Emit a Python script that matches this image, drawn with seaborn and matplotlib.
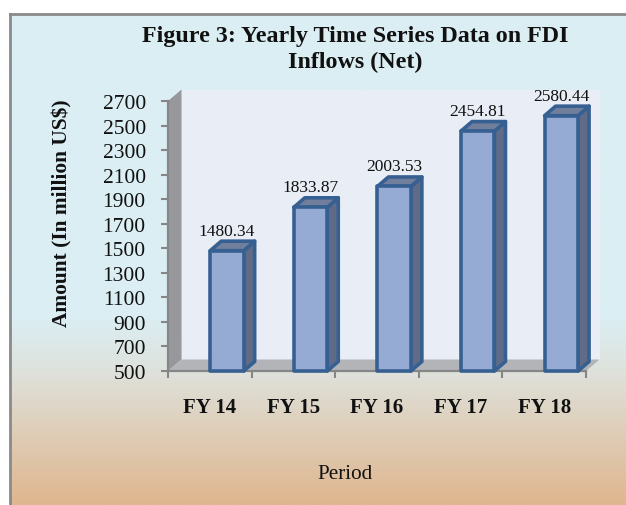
import numpy as np
import pandas as pd
import matplotlib
matplotlib.use("Agg")
import matplotlib.pyplot as plt
from matplotlib.colors import LinearSegmentedColormap
from matplotlib.patches import Polygon
import seaborn as sns

periods = ["FY 14", "FY 15", "FY 16", "FY 17", "FY 18"]
amounts = [1480.34, 1833.87, 2003.53, 2454.81, 2580.44]
y_ticks = list(range(500, 2701, 200))
title = "Figure 3: Yearly Time Series Data on FDI\nInflows (Net)"
y_label = "Amount (In million US$)"
x_label = "Period"

W, H = 626, 506
sns.set_theme(style="white")
plt.rcParams["font.family"] = ["Liberation Serif", "DejaVu Serif"]

fig = plt.figure(figsize=(W / 100, H / 100), dpi=100, facecolor="white")

# panel background
bg = fig.add_axes([9.5 / W, 0, (W - 9.5) / W, (H - 14.5) / H])
cmap = LinearSegmentedColormap.from_list(
    "panel", [(0, "#DBEEF3"), (0.62, "#DBEEF3"), (0.72, "#DEE3DE"), (1, "#DFB68E")])
bg.imshow(np.linspace(0, 1, 256)[:, None], aspect="auto", cmap=cmap, vmin=0, vmax=1)
bg.set_xticks([]); bg.set_yticks([])
for side, sp in bg.spines.items():
    sp.set_visible(side in ("left", "top"))
    sp.set_color("#8A8A8A")
    sp.set_linewidth(2.0)

# front plane of the 3-D plot
ax = fig.add_axes([168 / W, (H - 372) / H, 418 / W, 270 / H])
ax.patch.set_alpha(0)
df = pd.DataFrame({"period": periods, "amount": amounts})
sns.barplot(data=df, x="period", y="amount", color="#95ABD3", saturation=1,
            width=0.40, edgecolor="#376092", linewidth=2.6, ax=ax, zorder=5)

shift = 0.205
ax.set_xlim(-0.5 - shift, 4.5 - shift)
ax.set_ylim(500, 2700)
cat_px = 418 / 5
val_px = 270 / 2200
wall_dx, wall_dy = 13.5 / cat_px, 11.5 / val_px
bar_dx, bar_dy = 11 / cat_px, 9.5 / val_px

x0, x1 = ax.get_xlim()
y0, y1 = ax.get_ylim()
common = dict(clip_on=False, linewidth=0)
ax.add_patch(Polygon([(x0 + wall_dx, y0 + wall_dy), (x1 + wall_dx, y0 + wall_dy),
                      (x1 + wall_dx, y1 + wall_dy), (x0 + wall_dx, y1 + wall_dy)],
                     facecolor="#E9EDF6", zorder=1, **common))
ax.add_patch(Polygon([(x0, y0), (x0 + wall_dx, y0 + wall_dy),
                      (x0 + wall_dx, y1 + wall_dy), (x0, y1)],
                     facecolor="#96989C", zorder=1.5, **common))
ax.add_patch(Polygon([(x0, y0), (x1, y0), (x1 + wall_dx, y0 + wall_dy),
                      (x0 + wall_dx, y0 + wall_dy)],
                     facecolor="#B2B4B8", zorder=1.5, **common))

for i, (patch, v) in enumerate(zip(ax.patches[:len(amounts)], amounts)):
    patch.set_y(500)
    patch.set_height(v - 500)
    patch.set_joinstyle("round")
    patch.set_clip_on(False)
    l = patch.get_x()
    r = l + patch.get_width()
    edge = dict(edgecolor="#376092", linewidth=2.6, joinstyle="round", clip_on=False, zorder=4)
    ax.add_patch(Polygon([(r, 500), (r + bar_dx, 500 + bar_dy),
                          (r + bar_dx, v + bar_dy), (r, v)], facecolor="#5F6B87", **edge))
    ax.add_patch(Polygon([(l, v), (r, v), (r + bar_dx, v + bar_dy),
                          (l + bar_dx, v + bar_dy)], facecolor="#717F9D", **edge))
    ax.annotate(f"{v:.2f}", (i, v), xytext=(0, 14.4), textcoords="offset points",
                ha="center", va="center", fontsize=12.5, color="#111111", zorder=6,
                annotation_clip=False)

# axes and ticks
for side, sp in ax.spines.items():
    sp.set_visible(side in ("left", "bottom"))
    sp.set_color("#868686")
    sp.set_linewidth(1.6)
    sp.set_zorder(3)
ax.set_yticks(y_ticks)
ax.set_yticklabels([str(t) for t in y_ticks], fontsize=15.5, color="#111111")
ax.tick_params(axis="y", left=True, length=5, width=1.5, color="#868686", pad=11)
ax.set_xticks([i - shift for i in range(len(periods))])
ax.set_xticklabels(periods, fontsize=15, fontweight="bold", color="#111111")
ax.tick_params(axis="x", which="major", bottom=False, pad=13)
ax.set_xticks([x0 + k for k in range(len(periods) + 1)], minor=True)
ax.tick_params(axis="x", which="minor", bottom=True, length=5, width=1.5, color="#868686")
ax.set_xlabel("")
ax.set_ylabel("")

fig.text(355.5 / W, 1 - 49.5 / H, title, ha="center", va="center", fontsize=17.3,
         fontweight="bold", color="#111111", linespacing=1.25)
fig.text(62 / W, 1 - 213 / H, y_label, rotation=90, ha="center", va="center",
         fontsize=15.4, fontweight="bold", color="#111111")
fig.text(345.5 / W, 1 - 475 / H, x_label, ha="center", va="center", fontsize=15.2, color="#111111")

fig.savefig("out.png", dpi=100)
